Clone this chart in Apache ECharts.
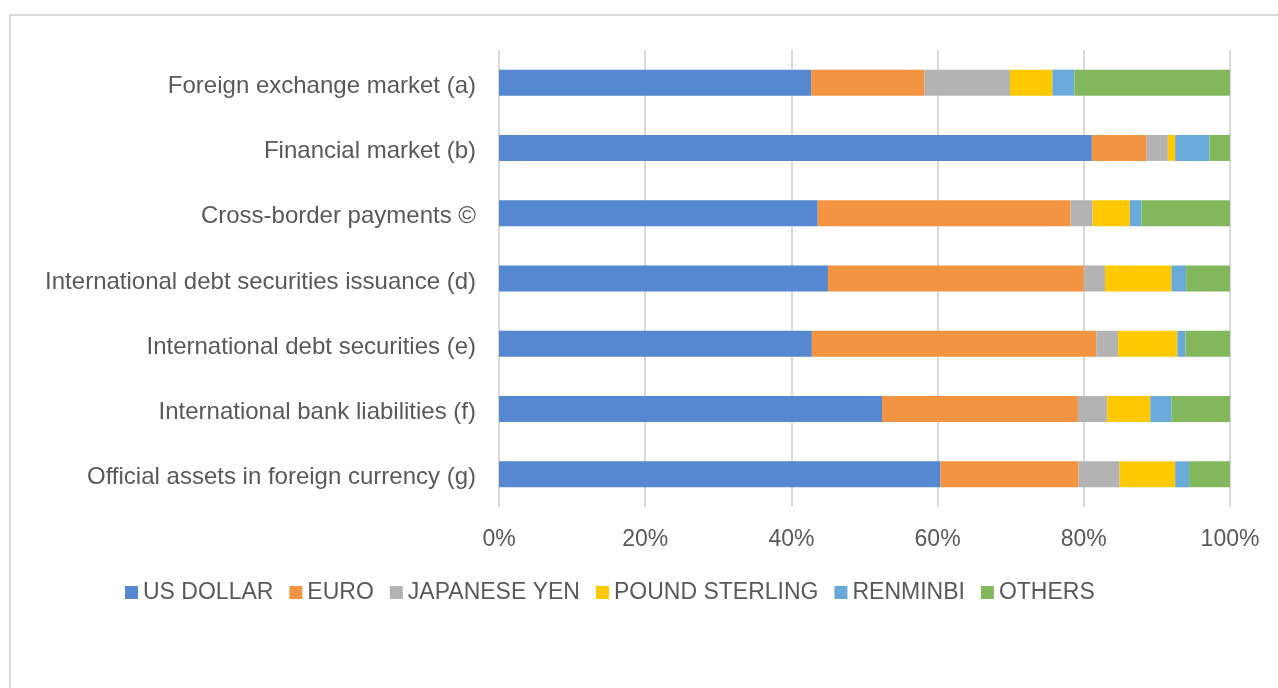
<!DOCTYPE html>
<html>
<head>
<meta charset="utf-8">
<script src="https://cdn.jsdelivr.net/npm/echarts@6/dist/echarts.min.js"></script>
<style>
  html, body { margin: 0; padding: 0; background: #fff; }
  #main { width: 1278px; height: 688px; }
</style>
</head>
<body>
<div id="main"></div>
<script>
const categories = [
  'Foreign exchange market (a)',
  'Financial market (b)',
  'Cross-border payments \u00a9',
  'International debt securities issuance (d)',
  'International debt securities (e)',
  'International bank liabilities (f)',
  'Official assets in foreign currency (g)'
];

const usDollar      = [42.7, 81.1, 43.6, 45.0, 42.8, 52.4, 60.4];
const euro          = [15.5,  7.5, 34.6, 35.0, 38.9, 26.8, 18.9];
const japaneseYen   = [11.7,  2.9,  3.0,  2.9,  3.0,  4.0,  5.6];
const poundSterling = [ 5.8,  1.0,  5.1,  9.1,  8.1,  5.9,  7.6];
const renminbi      = [ 3.0,  4.7,  1.6,  2.0,  1.1,  2.9,  1.9];
const others        = [21.3,  2.8, 12.1,  6.0,  6.1,  8.0,  5.6];

const xTicks = [0, 20, 40, 60, 80, 100];

const seriesDefs = [
  { name: 'US DOLLAR', data: usDollar, color: '#5588d0' },
  { name: 'EURO', data: euro, color: '#f29441' },
  { name: 'JAPANESE YEN', data: japaneseYen, color: '#b3b3b3' },
  { name: 'POUND STERLING', data: poundSterling, color: '#ffc901' },
  { name: 'RENMINBI', data: renminbi, color: '#6aaadb' },
  { name: 'OTHERS', data: others, color: '#82b85b' }
];

const chart = echarts.init(document.getElementById('main'));
const textColor = '#595959';
const font = 'Liberation Sans, Arial, sans-serif';

chart.setOption({
  backgroundColor: '#fff',
  animation: false,
  graphic: [{
    type: 'rect',
    shape: { x: 10, y: 15, width: 1300, height: 700 },
    style: { fill: 'none', stroke: '#d9d9d9', lineWidth: 2 },
    silent: true
  }],
  legend: {
    left: 120,
    top: 576,
    itemWidth: 13,
    itemHeight: 13,
    itemGap: 16,
    icon: 'rect',
    textStyle: { color: textColor, fontSize: 23, fontFamily: font },
    data: seriesDefs.map(s => s.name)
  },
  grid: {
    left: 499,
    right: 48,
    top: 50,
    bottom: 181
  },
  xAxis: {
    type: 'value',
    min: 0,
    max: 100,
    interval: 20,
    axisLine: { show: false },
    axisTick: { show: false },
    splitLine: { lineStyle: { color: '#d9d9d9', width: 2 } },
    axisLabel: {
      color: textColor,
      fontSize: 23,
      fontFamily: font,
      margin: 21,
      formatter: v => (xTicks.includes(v) ? v + '%' : '')
    }
  },
  yAxis: {
    type: 'category',
    inverse: true,
    data: categories,
    axisLine: { show: false },
    axisTick: { show: false },
    axisLabel: {
      margin: 23,
      formatter: v => '{a|' + v + '}',
      rich: {
        a: {
          color: textColor,
          fontSize: 24,
          fontFamily: font,
          padding: [7, 0, 0, 0]
        }
      }
    }
  },
  series: seriesDefs.map(s => ({
    name: s.name,
    type: 'bar',
    stack: 'total',
    barWidth: 26,
    itemStyle: { color: s.color },
    data: s.data
  }))
});
</script>
</body>
</html>
